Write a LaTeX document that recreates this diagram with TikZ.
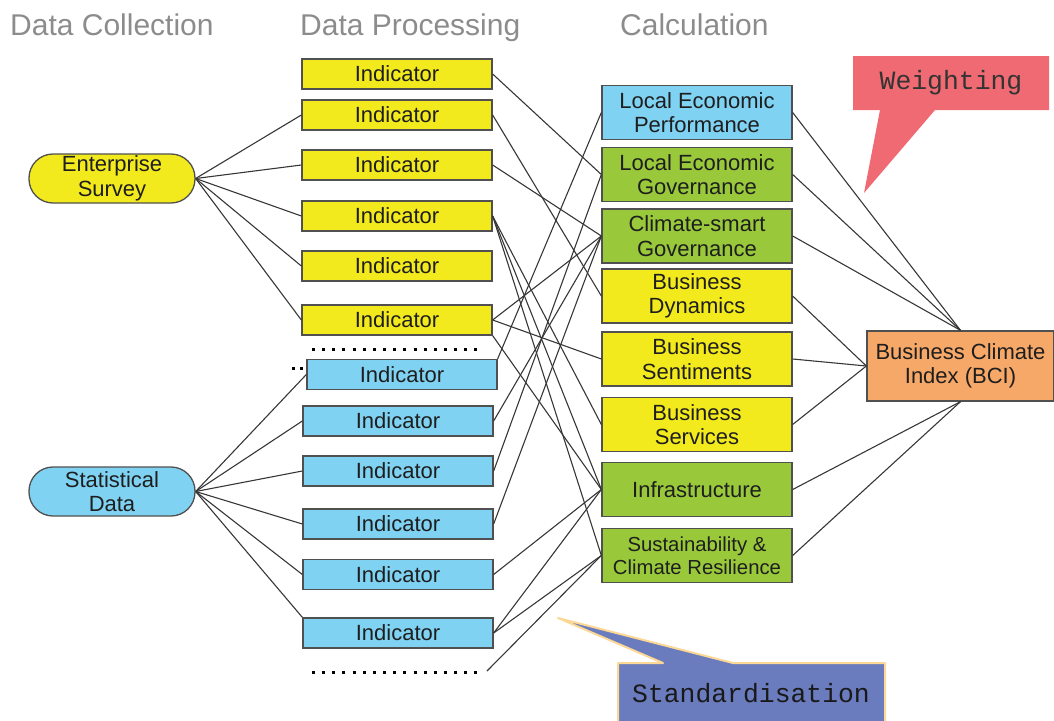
\documentclass[tikz,border=0pt]{standalone}
\usepackage{fontspec}
\setmainfont{Liberation Sans}
\newfontfamily\callfont{Liberation Mono}
\definecolor{cyel}{RGB}{243,234,30}
\definecolor{cblu}{RGB}{128,210,243}
\definecolor{cgrn}{RGB}{153,201,59}
\definecolor{corg}{RGB}{246,168,104}
\definecolor{cpink}{RGB}{239,106,114}
\definecolor{cstd}{RGB}{106,124,190}
\definecolor{cstdb}{RGB}{252,216,150}
\definecolor{headcol}{RGB}{140,140,140}
\definecolor{boxline}{RGB}{80,80,80}
\definecolor{linecol}{RGB}{55,55,55}
\definecolor{textcol}{RGB}{30,30,30}
\begin{document}
\begin{tikzpicture}[x=1pt,y=-1pt,
  box/.style={draw=boxline, line width=1.3pt, inner sep=0pt, align=center,
    font=\fontsize{22}{24.5}\selectfont, text=textcol},
  ind/.style={box, minimum width=190pt, minimum height=30pt},
  calc/.style={box, minimum width=190pt, minimum height=54pt},
  src/.style={box, rounded corners=24pt, minimum width=166pt, minimum height=49pt},
  link/.style={draw=linecol, line width=1.1pt},
  head/.style={font=\fontsize{30}{32}\selectfont, text=headcol, anchor=base west, inner sep=0pt},
  dotrow/.style={draw=black, line width=3pt, dash pattern=on 3pt off 7.15pt},
  calltext/.style={font=\callfont\fontsize{26.4}{28}\selectfont, inner sep=0pt}
]
\useasboundingbox (0,0) rectangle (1054,720);

% headers
\node[head] (h1) at (10,35) {Data Collection};
\node[head] (h2) at (300,35) {Data Processing};
\node[head] (h3) at (620,35) {Calculation};

% callouts
\fill[cpink] (853,56) -- (1049,56) -- (1049,110) -- (935,110) -- (864,193) -- (880,110) -- (853,110) -- cycle;
\node[calltext, text=black!80] (W) at (951,83) {Weighting};
\fill[cstd] (618,663) -- (663,663) -- (558,618) -- (733,663) -- (885,663) -- (885,721) -- (618,721) -- cycle;
\draw[cstdb, line width=2pt, line join=round] (618,721) -- (618,663) -- (663,663) -- (558,618) -- (733,663) -- (885,663) -- (885,721);
\node[calltext, text=black!90] (S) at (751,693) {Standardisation};

% sources
\node[src, fill=cyel] (ES) at (112,178.5) {Enterprise\\Survey};
\node[src, fill=cblu] (SD) at (112,491.5) {Statistical\\Data};

% indicators
\node[ind, fill=cyel] (I1) at (397,74) {Indicator};
\node[ind, fill=cyel] (I2) at (397,115) {Indicator};
\node[ind, fill=cyel] (I3) at (397,165) {Indicator};
\node[ind, fill=cyel] (I4) at (397,216) {Indicator};
\node[ind, fill=cyel] (I5) at (397,266) {Indicator};
\node[ind, fill=cyel] (I6) at (397,320) {Indicator};
\node[ind, fill=cblu] (I7) at (402,374.5) {Indicator};
\node[ind, fill=cblu] (I8) at (398,421) {Indicator};
\node[ind, fill=cblu] (I9) at (398,471) {Indicator};
\node[ind, fill=cblu] (I10) at (398,524) {Indicator};
\node[ind, fill=cblu] (I11) at (398,574.5) {Indicator};
\node[ind, fill=cblu] (I12) at (398,633) {Indicator};

% dotted rows
\draw[dotrow] (312,349) -- (479,349);
\draw[dotrow] (312,672) -- (479,672);
\fill (292,366.5) rectangle (295,369.5);
\fill (300,366.5) rectangle (303,369.5);
\coordinate (dotsEnd) at (487,671);

% calculation
\node[calc, fill=cblu] (C1) at (697,112.5) {Local Economic\\Performance};
\node[calc, fill=cgrn] (C2) at (697,174.5) {Local Economic\\Governance};
\node[calc, fill=cgrn] (C3) at (697,236) {Climate-smart\\Governance};
\node[calc, fill=cyel] (C4) at (697,296) {Business\\Dynamics};
\node[calc, fill=cyel] (C5) at (697,359) {Business\\Sentiments};
\node[calc, fill=cyel] (C6) at (697,424.5) {Business\\Services};
\node[calc, fill=cgrn] (C7) at (697,489.5) {Infrastructure};
\node[calc, fill=cgrn, font=\fontsize{20.3}{23}\selectfont] (C8) at (697,555.5) {Sustainability \&\\Climate Resilience};

% index
\node[box, fill=corg, minimum width=187pt, minimum height=70pt] (BCI) at (960.5,366) {Business Climate\\Index (BCI)};

% source links
\foreach \t in {I2,I3,I4,I5,I6} \draw[link] (ES.east) -- (\t.west);
\foreach \t in {I7,I8,I9,I10,I11} \draw[link] (SD.east) -- (\t.west);
\draw[link] (SD.east) -- (I12.north west);

% indicator to calculation links
\draw[link] (I1.east) -- (C2.west);
\draw[link] (I2.east) -- (C4.west);
\draw[link] (I3.east) -- (C3.west);
\draw[link] (I4.east) -- (C6.west);
\draw[link] (I4.east) -- (C7.west);
\draw[link] (I4.east) -- (C8.west);
\draw[link] (I6.east) -- (C3.west);
\draw[link] (I6.east) -- (C5.west);
\draw[link] (I6.south east) -- (C7.west);
\draw[link] (C1.west) -- (I7.north east);
\draw[link] (I8.east) -- (C3.west);
\draw[link] (I9.east) -- (C2.west);
\draw[link] (I10.east) -- (C3.west);
\draw[link] (I11.east) -- (C7.west);
\draw[link] (I12.east) -- (C7.west);
\draw[link] (I12.east) -- (C8.west);
\draw[link] (dotsEnd) -- (C8.west);

% calculation to index links
\foreach \s in {C1,C2,C3} \draw[link] (\s.east) -- (BCI.north);
\foreach \s in {C4,C5,C6} \draw[link] (\s.east) -- (BCI.west);
\foreach \s in {C7,C8} \draw[link] (\s.east) -- (BCI.south);
\end{tikzpicture}
\end{document}
